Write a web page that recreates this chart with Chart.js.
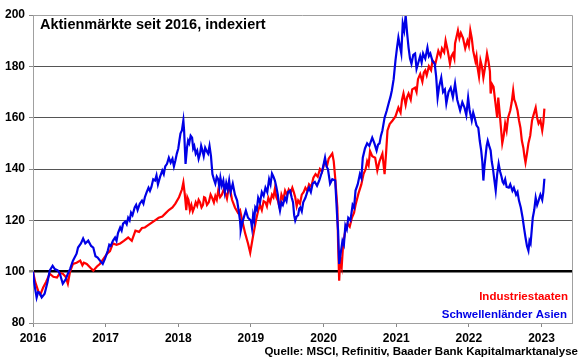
<!DOCTYPE html>
<html><head><meta charset="utf-8">
<script src="https://cdn.jsdelivr.net/npm/chart.js@4.4.1/dist/chart.umd.min.js"></script>
<style>html,body{margin:0;padding:0;background:#fff}#wrap{width:580px;height:359px}</style>
</head><body><div id="wrap"><canvas id="c" width="580" height="359"></canvas></div>
<script>
const titleText = "Aktienmärkte seit 2016, indexiert";
const sourceText = "Quelle: MSCI, Refinitiv, Baader Bank Kapitalmarktanalyse";
const seriesNames = ["Industriestaaten", "Schwellenländer Asien"];
const yTicks = [80, 100, 120, 140, 160, 180, 200];
const xTicks = [2016, 2017, 2018, 2019, 2020, 2021, 2022, 2023];

// [decimal year, index value]
const industriestaaten = [
[2016.00,100],[2016.03,96],[2016.07,92.6],[2016.10,91],[2016.14,93.8],[2016.18,96],[2016.23,99.2],[2016.28,98],[2016.33,97.7],[2016.37,99.5],[2016.41,99.2],[2016.45,98],[2016.48,95.3],[2016.51,100],[2016.55,103],[2016.60,103.5],[2016.65,104.3],[2016.68,102.5],[2016.70,103.5],[2016.74,103],[2016.79,101.5],[2016.83,100.4],[2016.88,102],[2016.92,103],[2016.97,105],[2017.02,107],[2017.06,108],[2017.10,111],[2017.15,110.5],[2017.20,111],[2017.25,112],[2017.31,113.3],[2017.36,112],[2017.41,116],[2017.46,115.5],[2017.50,117],[2017.54,117.2],[2017.58,118],[2017.63,119],[2017.68,120],[2017.73,121],[2017.78,121.5],[2017.82,122.6],[2017.87,124],[2017.92,125],[2017.96,126.5],[2018.01,129],[2018.05,132],[2018.07,134.7],[2018.09,130],[2018.11,124],[2018.125,129],[2018.14,128],[2018.16,124],[2018.18,126],[2018.20,123.5],[2018.22,125],[2018.24,127],[2018.26,125.7],[2018.28,128],[2018.30,127],[2018.32,125],[2018.34,126],[2018.355,129],[2018.37,128.8],[2018.395,126],[2018.42,127],[2018.445,130],[2018.47,128.5],[2018.49,127],[2018.51,129.5],[2018.53,128],[2018.55,131.6],[2018.575,129],[2018.60,130],[2018.625,132],[2018.65,130.4],[2018.67,128.5],[2018.69,132],[2018.71,132.7],[2018.74,128],[2018.78,125],[2018.82,123],[2018.85,124],[2018.88,119.9],[2018.92,115],[2018.96,111],[2018.99,107.4],[2019.03,114],[2019.07,120],[2019.10,123.8],[2019.125,126],[2019.15,124],[2019.175,127.5],[2019.20,127],[2019.22,125.5],[2019.24,128.8],[2019.265,127],[2019.29,130],[2019.31,129],[2019.33,132.3],[2019.35,129],[2019.37,127.7],[2019.395,125],[2019.42,130],[2019.445,128],[2019.47,131.6],[2019.495,130],[2019.52,132],[2019.545,130.5],[2019.57,132.7],[2019.59,131],[2019.61,129],[2019.63,125.5],[2019.65,127.7],[2019.675,126.5],[2019.70,130],[2019.725,131],[2019.75,132.7],[2019.775,131.5],[2019.80,134],[2019.83,133],[2019.86,136.6],[2019.89,138],[2019.92,137],[2019.95,140],[2019.98,139],[2020.02,143.3],[2020.05,141.5],[2020.07,144],[2020.12,146],[2020.14,143],[2020.16,136.6],[2020.19,125],[2020.20,111],[2020.215,96.5],[2020.23,105],[2020.25,102],[2020.27,111],[2020.30,116],[2020.33,118.7],[2020.36,117.5],[2020.39,121],[2020.42,123],[2020.44,126],[2020.48,130.4],[2020.52,134],[2020.55,138],[2020.58,140],[2020.60,143],[2020.62,141.5],[2020.64,147],[2020.67,145],[2020.71,144.4],[2020.74,139.4],[2020.77,143],[2020.81,146],[2020.84,138],[2020.86,146],[2020.88,155],[2020.91,157.5],[2020.95,158.9],[2020.99,160.5],[2021.03,163.9],[2021.06,162],[2021.08,167],[2021.10,169.4],[2021.13,165],[2021.15,168],[2021.17,169.4],[2021.20,167],[2021.22,171],[2021.26,171.7],[2021.28,170],[2021.30,175],[2021.33,177],[2021.36,174],[2021.38,177.5],[2021.40,178.4],[2021.42,176.5],[2021.45,180],[2021.48,178.5],[2021.50,182.3],[2021.54,181],[2021.56,183.5],[2021.58,186],[2021.61,184],[2021.63,187],[2021.66,185.5],[2021.68,190],[2021.71,186],[2021.74,181],[2021.76,184],[2021.78,185],[2021.80,183],[2021.81,188.9],[2021.85,194],[2021.87,191],[2021.89,193],[2021.92,191],[2021.95,187],[2021.98,190],[2022.00,188],[2022.02,194],[2022.04,191],[2022.06,186],[2022.09,182],[2022.105,184],[2022.12,179.5],[2022.14,176],[2022.16,182.3],[2022.18,180],[2022.20,175.6],[2022.22,179],[2022.25,185],[2022.27,182],[2022.29,178],[2022.30,169.4],[2022.32,173],[2022.34,172],[2022.365,166],[2022.39,160],[2022.405,167.8],[2022.43,160],[2022.445,155],[2022.46,150],[2022.48,153],[2022.50,157.7],[2022.52,155],[2022.54,160],[2022.57,162.8],[2022.59,166],[2022.61,170.6],[2022.625,167],[2022.64,166],[2022.67,162.8],[2022.69,159],[2022.71,156.1],[2022.73,151],[2022.75,148.3],[2022.765,145],[2022.78,142.5],[2022.80,146],[2022.82,150],[2022.845,153],[2022.87,158.9],[2022.89,161],[2022.92,163.9],[2022.94,160],[2022.96,157.7],[2022.985,159],[2023.01,155],[2023.025,158],[2023.04,163.5]
];

const schwellenlaenderAsien = [
[2016.00,100],[2016.02,95],[2016.05,89.9],[2016.07,92],[2016.09,91.8],[2016.12,90],[2016.16,91.4],[2016.20,96],[2016.23,100.4],[2016.27,102.3],[2016.30,101],[2016.34,100.5],[2016.37,99.2],[2016.41,95.3],[2016.45,97],[2016.48,99.2],[2016.51,101],[2016.55,104.3],[2016.60,107],[2016.62,109.4],[2016.66,111],[2016.69,112.9],[2016.72,111],[2016.76,112.1],[2016.80,110],[2016.83,109.4],[2016.86,106],[2016.89,105.5],[2016.93,104],[2016.96,103],[2016.99,105],[2017.03,108.2],[2017.05,110.5],[2017.07,110],[2017.10,112],[2017.13,113.3],[2017.15,112],[2017.17,115],[2017.20,117.2],[2017.22,116],[2017.24,118.7],[2017.27,119.5],[2017.29,118.5],[2017.31,121],[2017.33,120],[2017.35,123],[2017.37,122],[2017.40,125],[2017.42,126],[2017.44,124],[2017.47,126.5],[2017.50,127.7],[2017.52,126.5],[2017.54,129],[2017.565,131],[2017.59,132.7],[2017.61,131.5],[2017.63,133],[2017.655,136],[2017.68,135.5],[2017.70,137.5],[2017.72,134],[2017.75,137],[2017.78,139.4],[2017.80,138],[2017.82,141],[2017.845,142],[2017.87,144.4],[2017.895,142.5],[2017.92,144],[2017.94,141],[2017.96,143.3],[2017.98,146],[2018.00,148],[2018.015,151],[2018.03,153.8],[2018.05,155],[2018.07,158.9],[2018.08,155],[2018.10,142],[2018.12,148.3],[2018.135,151],[2018.15,150],[2018.17,153],[2018.19,152.2],[2018.205,148],[2018.22,149],[2018.24,146],[2018.26,147.2],[2018.28,144],[2018.30,146],[2018.315,149],[2018.33,147.5],[2018.35,145],[2018.37,148.3],[2018.39,147],[2018.41,146],[2018.43,149],[2018.45,145],[2018.47,138],[2018.49,136],[2018.51,134.3],[2018.53,137],[2018.55,136],[2018.565,133],[2018.58,136.6],[2018.60,133.5],[2018.62,135.5],[2018.64,131],[2018.66,134.5],[2018.68,132],[2018.70,135.5],[2018.72,131],[2018.75,134.3],[2018.78,130],[2018.81,127.7],[2018.83,124],[2018.85,119.9],[2018.86,116],[2018.89,120],[2018.93,123.8],[2018.96,121],[2019.00,119.9],[2019.015,117],[2019.03,122],[2019.045,120],[2019.06,125],[2019.08,124],[2019.10,128.8],[2019.125,127],[2019.15,131],[2019.175,129.5],[2019.20,132.7],[2019.225,131],[2019.25,136],[2019.27,134],[2019.29,138.2],[2019.31,137],[2019.33,135.5],[2019.35,133],[2019.37,130],[2019.385,126],[2019.40,123.8],[2019.42,127],[2019.44,126],[2019.47,128.8],[2019.49,127.5],[2019.51,131],[2019.54,131.6],[2019.56,129],[2019.58,127],[2019.595,122],[2019.61,119.9],[2019.63,121.5],[2019.65,122],[2019.665,124.5],[2019.68,125],[2019.70,123.5],[2019.72,127],[2019.75,128.8],[2019.775,131],[2019.80,132.7],[2019.825,131],[2019.85,134.3],[2019.88,135],[2019.91,133.5],[2019.94,135.5],[2019.98,139],[2020.02,144.4],[2020.04,141],[2020.06,140],[2020.09,134.3],[2020.12,136],[2020.16,135.5],[2020.19,120],[2020.20,116],[2020.215,103],[2020.24,108],[2020.26,112],[2020.28,110.5],[2020.30,118],[2020.32,116.5],[2020.34,121],[2020.37,120],[2020.40,126],[2020.42,125],[2020.44,131.6],[2020.47,134],[2020.50,138],[2020.52,136.5],[2020.54,144.4],[2020.57,148],[2020.60,150],[2020.63,149],[2020.67,152.2],[2020.70,150],[2020.73,147.2],[2020.75,149.5],[2020.77,150],[2020.79,153],[2020.81,155],[2020.84,160],[2020.87,162.8],[2020.90,166],[2020.92,168],[2020.94,170.6],[2020.965,175],[2020.99,182.3],[2021.01,187],[2021.03,191.2],[2021.05,188],[2021.07,185],[2021.09,196.7],[2021.11,194],[2021.13,199.8],[2021.15,193],[2021.17,187.3],[2021.19,183],[2021.21,181],[2021.235,184.5],[2021.26,185],[2021.28,179],[2021.30,181],[2021.33,184],[2021.35,181.5],[2021.37,185],[2021.40,183],[2021.43,187.3],[2021.45,184],[2021.47,185],[2021.50,182],[2021.53,181],[2021.55,176],[2021.57,167.8],[2021.59,172],[2021.62,175.6],[2021.645,170],[2021.67,171],[2021.69,165.5],[2021.72,170],[2021.75,171.7],[2021.78,168],[2021.81,173.3],[2021.84,167],[2021.88,162.8],[2021.91,166],[2021.94,163.9],[2021.965,161],[2021.99,167.8],[2022.01,163],[2022.04,158.9],[2022.06,162],[2022.08,160],[2022.105,157],[2022.13,156],[2022.15,151],[2022.17,147.2],[2022.185,143],[2022.20,135.5],[2022.215,141],[2022.23,145],[2022.245,149],[2022.26,151],[2022.28,149],[2022.30,147.2],[2022.315,143],[2022.33,140.5],[2022.35,136],[2022.37,131.6],[2022.39,138],[2022.41,142],[2022.43,139],[2022.45,137],[2022.465,135],[2022.48,134.3],[2022.50,136],[2022.52,133],[2022.55,132.7],[2022.57,134],[2022.60,131.5],[2022.62,132.7],[2022.65,130],[2022.67,131],[2022.69,127.7],[2022.715,125],[2022.74,121],[2022.76,117],[2022.78,113.3],[2022.80,110],[2022.82,108.2],[2022.835,112],[2022.85,111],[2022.865,116],[2022.88,121],[2022.90,124],[2022.92,128.8],[2022.94,126],[2022.96,127.7],[2022.985,130],[2023.01,128],[2023.025,131],[2023.04,136.2]
];

const toPts = arr => arr.map(p => ({x: p[0], y: p[1]}));
const FONT = "'Liberation Sans', Arial, sans-serif";
const RED = '#ff0000', BLUE = '#0000e6';

const overlay = {
  id: 'overlay',
  afterDraw(chart) {
    const {ctx, chartArea: a} = chart;
    ctx.save();
    ctx.strokeStyle = '#a0a0a0'; ctx.lineWidth = 1;
    ctx.beginPath();
    ctx.moveTo(a.left, a.top + 0.5); ctx.lineTo(a.right + 0.5, a.top + 0.5);
    ctx.lineTo(a.right + 0.5, a.bottom); ctx.stroke();
    ctx.font = 'bold 14.5px ' + FONT;
    ctx.fillStyle = '#000'; ctx.textBaseline = 'middle'; ctx.textAlign = 'left';
    ctx.fillText(titleText, a.left + 7, a.top + 10);
    ctx.font = 'bold 11.5px ' + FONT; ctx.textAlign = 'right';
    ctx.fillStyle = RED;
    ctx.fillText(seriesNames[0], a.right - 4, a.bottom - 26);
    ctx.fillStyle = BLUE;
    ctx.fillText(seriesNames[1], a.right - 5, a.bottom - 8);
    ctx.fillStyle = '#000';
    ctx.fillText(sourceText, chart.width - 2, chart.height - 7);
    ctx.restore();
  }
};

new Chart(document.getElementById('c'), {
  type: 'line',
  data: {
    datasets: [
      {label: seriesNames[1], data: toPts(schwellenlaenderAsien), borderColor: BLUE, borderWidth: 2.2, pointRadius: 0, tension: 0, order: 0},
      {label: seriesNames[0], data: toPts(industriestaaten), borderColor: RED, borderWidth: 2.2, pointRadius: 0, tension: 0, order: 1}
    ]
  },
  options: {
    responsive: false, animation: false,
    layout: {padding: {top: 15, right: 8, left: 0, bottom: 0}},
    plugins: {legend: {display: false}, tooltip: {enabled: false}},
    scales: {
      x: {
        type: 'linear', min: 2016, max: 2023.42,
        afterBuildTicks: s => { s.ticks = xTicks.map(v => ({value: v})); },
        afterFit: s => { s.height = 36; },
        border: {color: '#a0a0a0', width: 1},
        grid: {drawOnChartArea: false, drawTicks: true, tickLength: 4, tickColor: '#888'},
        ticks: {color: '#000', font: {family: FONT, weight: 'bold', size: 12}, padding: 4, maxRotation: 0, callback: v => String(v)}
      },
      y: {
        min: 80, max: 200,
        afterBuildTicks: s => { s.ticks = yTicks.map(v => ({value: v})); },
        afterFit: s => { s.width = 33; },
        border: {color: '#a0a0a0', width: 1},
        grid: {
          drawTicks: true, tickLength: 4, tickColor: '#888',
          color: c => c.tick.value === 100 ? '#000' : (c.tick.value === 80 || c.tick.value === 200 ? 'rgba(0,0,0,0)' : '#555'),
          lineWidth: c => c.tick.value === 100 ? 2.5 : 1
        },
        ticks: {color: '#000', font: {family: FONT, weight: 'bold', size: 12}, padding: 4, callback: v => String(v)}
      }
    }
  },
  plugins: [overlay]
});
</script></body></html>
